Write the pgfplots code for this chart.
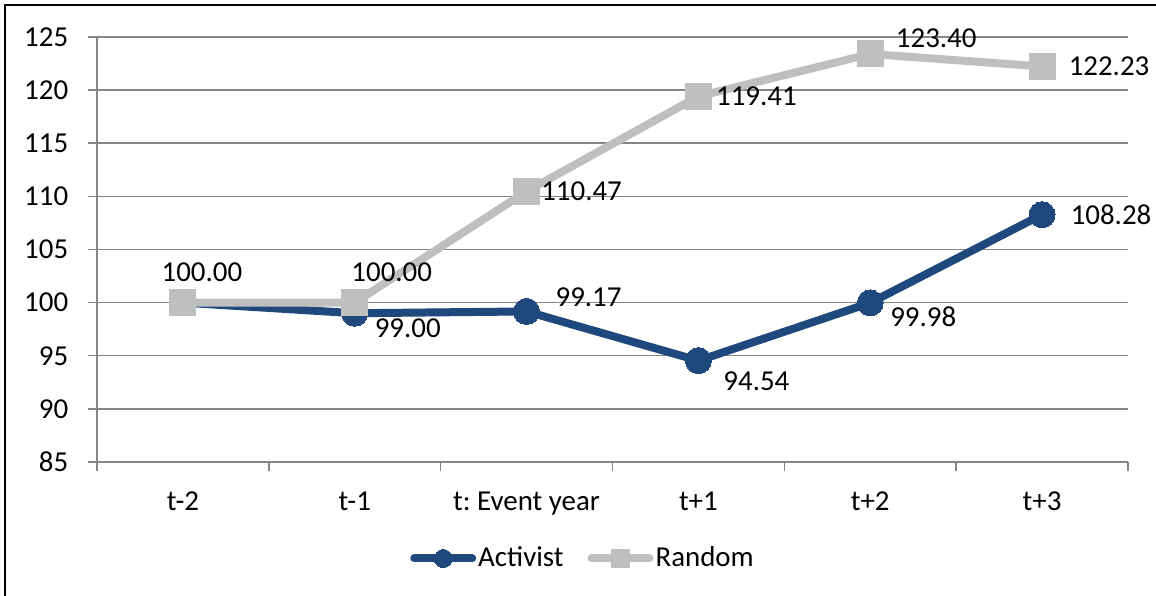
\documentclass[border=0pt]{standalone}
\usepackage{fontspec}
\setmainfont{Carlito}
\usepackage{pgfplots}
\usepackage{pgfplotstable}
\pgfplotsset{compat=1.18}
\definecolor{act}{RGB}{31,73,125}
\definecolor{rnd}{RGB}{191,191,191}
\definecolor{gridc}{RGB}{134,134,134}
\pgfplotstableread{
x y dx dy lab
0 100.00 19 30 100.00
1 99.00 53 -15 99.00
2 99.17 62 14 99.17
3 94.54 58 -21 94.54
4 99.98 53 -14 99.98
5 108.28 69 0 108.28
}\activist
\pgfplotstableread{
x y dx dy lab
0 100.00 19 30 {}
1 100.00 37 30 100.00
2 110.47 55 0 110.47
3 119.41 58 0 119.41
4 123.40 66 16 123.40
5 122.23 67 0 122.23
}\random
\begin{document}
\frenchspacing
\fontsize{29}{34}\selectfont
\begin{tikzpicture}
\useasboundingbox (0bp,0bp) rectangle (1156bp,596bp);
\draw[line width=2.5bp] (5bp,-5bp) -- (5bp,591bp) -- (1165bp,591bp);
\begin{axis}[
  at={(97bp,134bp)}, anchor=south west,
  scale only axis, width=1031bp, height=425bp,
  xmin=-0.5, xmax=5.5, ymin=85, ymax=125,
  ytick={85,90,...,125},
  xtick={-0.5,0.5,...,5.5},
  xticklabels={},
  extra x ticks={0,...,5},
  extra x tick labels={t-2,t-1,t: Event year,t+1,t+2,t+3},
  extra x tick style={tick style={draw=none}, xmajorgrids=false},
  major tick length=9bp,
  axis x line*=bottom, axis y line*=left,
  axis line style={gridc, line width=1.5bp, -},
  ymajorgrids, major grid style={gridc, line width=1.5bp},
  tick style={gridc, line width=1.5bp},
  tick align=outside,
  /pgf/number format/assume math mode=true,
  yticklabel style={/pgf/number format/fixed, xshift=-10bp},
  xticklabel style={yshift=-11bp},
  clip=false,
  legend columns=2,
  legend style={at={(0.4714,-0.227)}, anchor=center, draw=none, fill=none,
    nodes={inner xsep=2bp},
    /tikz/every even column/.append style={column sep=22bp}},
  legend image code/.code={\draw[mark=none, line cap=round] (0bp,0bp) -- (58bp,0bp);
    \draw[mark size=9bp] plot coordinates {(29bp,0bp)};},
  nodes near coords,
  point meta=explicit symbolic,
  visualization depends on={\thisrow{dx}\as\dx},
  visualization depends on={\thisrow{dy}\as\dy},
  every node near coord/.append style={anchor=center, xshift=\dx bp, yshift=\dy bp, text=black, inner sep=0pt},
]
\addplot[act, line width=8bp, line join=round, mark=*, mark size=13bp, mark options={solid, fill=act, draw=act, line width=0pt}]
  table[x=x, y=y, meta=lab] {\activist};
\addlegendentry{Activist}
\addplot[rnd, line width=8bp, line join=round, mark=square*, mark size=13bp, mark options={solid, fill=rnd, draw=rnd, line width=0pt}]
  table[x=x, y=y, meta=lab] {\random};
\addlegendentry{Random}
\end{axis}
\end{tikzpicture}
\end{document}
